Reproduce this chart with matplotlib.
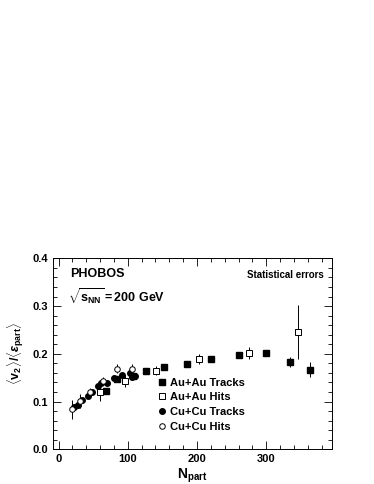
import matplotlib
matplotlib.use("Agg")
import matplotlib.pyplot as plt
from matplotlib.ticker import MultipleLocator, FormatStrFormatter

plt.rcParams['font.family'] = ['Liberation Sans', 'DejaVu Sans']
plt.rcParams['font.weight'] = 'bold'
plt.rcParams['mathtext.fontset'] = 'custom'
plt.rcParams['mathtext.rm'] = 'Liberation Sans'
plt.rcParams['mathtext.bf'] = 'Liberation Sans:bold'
plt.rcParams['mathtext.it'] = 'Liberation Sans:italic'

# Au+Au Tracks
auau_trk_x = [68.6, 84, 108, 126, 153, 186, 220, 260, 300, 335, 363]
auau_trk_y = [0.123, 0.147, 0.153, 0.163, 0.172, 0.179, 0.190, 0.197, 0.201, 0.183, 0.167]
auau_trk_e = [0.005, 0.005, 0.005, 0.004, 0.004, 0.004, 0.004, 0.004, 0.005, 0.010, 0.015]

# Au+Au Hits
auau_hit_x = [60, 95.5, 141, 203, 275, 346]
auau_hit_y = [0.121, 0.143, 0.165, 0.189, 0.202, 0.246]
auau_hit_e = [0.020, 0.012, 0.009, 0.011, 0.013, 0.056]

# Cu+Cu Tracks
cucu_trk_x = [22.6, 28, 34, 42, 49, 57.6, 62, 69.6, 80.7, 92, 103, 106, 111]
cucu_trk_y = [0.089, 0.092, 0.103, 0.112, 0.120, 0.132, 0.138, 0.139, 0.150, 0.155, 0.159, 0.152, 0.153]
cucu_trk_e = [0.005, 0.005, 0.005, 0.005, 0.005, 0.005, 0.005, 0.005, 0.005, 0.005, 0.005, 0.005, 0.005]

# Cu+Cu Hits
cucu_hit_x = [19.2, 31, 46, 64, 85, 105.6]
cucu_hit_y = [0.084, 0.101, 0.121, 0.144, 0.169, 0.169]
cucu_hit_e = [0.020, 0.015, 0.008, 0.008, 0.010, 0.010]

fig = plt.figure(figsize=(3.74, 4.84), dpi=100)
ax = fig.add_axes([0.1417, 0.0717, 0.746, 0.3946])

ms = 4.0
common = dict(ls='none', ecolor='black', elinewidth=0.7, capsize=0)
c1 = ax.errorbar(auau_trk_x, auau_trk_y, yerr=auau_trk_e, marker='s', ms=ms,
                 mfc='black', mec='black', **common)
c2 = ax.errorbar(auau_hit_x, auau_hit_y, yerr=auau_hit_e, marker='s', ms=ms,
                 mfc='white', mec='black', mew=0.7, **common)
c3 = ax.errorbar(cucu_trk_x, cucu_trk_y, yerr=cucu_trk_e, marker='o', ms=ms,
                 mfc='black', mec='black', **common)
c4 = ax.errorbar(cucu_hit_x, cucu_hit_y, yerr=cucu_hit_e, marker='o', ms=ms,
                 mfc='white', mec='black', mew=0.7, **common)

ax.set_xlim(-8, 395)
ax.set_ylim(0, 0.4)
ax.xaxis.set_major_locator(MultipleLocator(100))
ax.xaxis.set_minor_locator(MultipleLocator(20))
ax.yaxis.set_major_locator(MultipleLocator(0.1))
ax.yaxis.set_minor_locator(MultipleLocator(0.02))
ax.yaxis.set_major_formatter(FormatStrFormatter('%.1f'))
ax.tick_params(which='both', direction='in', top=True, right=True,
               labelsize=8, width=0.6)
ax.tick_params(which='major', length=6)
ax.tick_params(which='minor', length=3)
for sp in ax.spines.values():
    sp.set_linewidth(0.7)

ax.set_xlabel(r'$\mathbf{N}_{\mathbf{part}}$', fontsize=10, labelpad=2)
ax.set_ylabel(r'$\langle\mathbf{v}_{\mathbf{2}}\rangle/\langle\varepsilon_{\mathbf{part}}\rangle$',
              fontsize=9, labelpad=5)

ax.text(0.06, 0.92, 'PHOBOS', transform=ax.transAxes, fontsize=9,
        fontweight='bold', va='center', ha='left')
ax.text(0.97, 0.915, 'Statistical errors', transform=ax.transAxes, fontsize=7,
        fontweight='bold', va='center', ha='right')
ax.text(0.055, 0.8, r'$\sqrt{\mathbf{s}_{\mathbf{NN}}}\mathbf{=200\ GeV}$',
        transform=ax.transAxes, fontsize=9, va='center', ha='left')

ax.legend([c1[0], c2[0], c3[0], c4[0]],
          ['Au+Au Tracks', 'Au+Au Hits', 'Cu+Cu Tracks', 'Cu+Cu Hits'],
          loc='upper left', bbox_to_anchor=(0.375, 0.375), frameon=False,
          fontsize=8, handlelength=0.8, handletextpad=0.3,
          labelspacing=0.42, borderaxespad=0, borderpad=0)

fig.savefig('out.png', dpi=100)
